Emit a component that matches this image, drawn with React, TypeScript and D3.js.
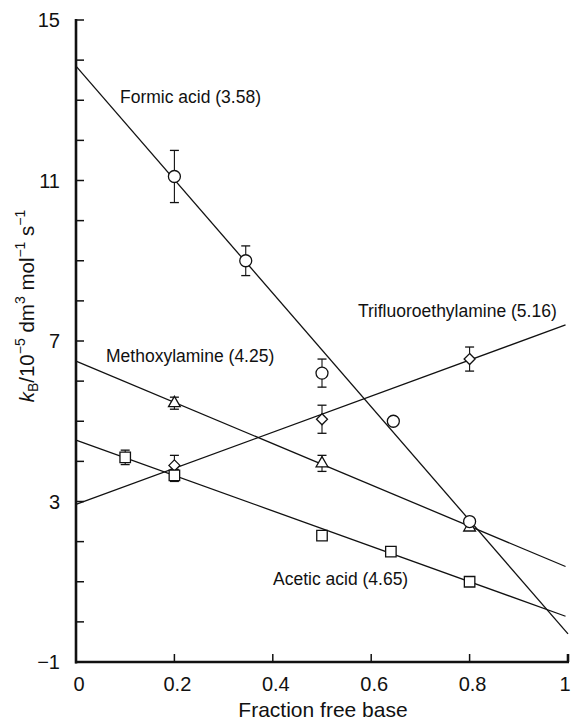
import React, { useEffect, useRef } from 'react';
import * as d3 from 'd3';

// Formic acid (circles)
const formicX = [0.2, 0.345, 0.5, 0.645, 0.8];
const formicY = [11.1, 9.0, 6.2, 5.0, 2.5];
const formicErr = [0.65, 0.37, 0.35, 0, 0];
// Trifluoroethylamine (diamonds)
const trifluoroX = [0.2, 0.5, 0.8];
const trifluoroY = [3.9, 5.05, 6.55];
const trifluoroErr = [0.25, 0.35, 0.3];
// Methoxylamine (triangles)
const methoxyX = [0.2, 0.5, 0.8];
const methoxyY = [5.45, 3.95, 2.35];
const methoxyErr = [0.15, 0.2, 0];
// Acetic acid (squares)
const aceticX = [0.1, 0.2, 0.5, 0.64, 0.8];
const aceticY = [4.1, 3.65, 2.15, 1.75, 1.0];
const aceticErr = [0.18, 0.15, 0, 0, 0];

// fitted lines: [x, y] end points
const formicLine = [[0, 13.85], [1, -0.3]];
const trifluoroLine = [[0, 2.93], [0.995, 7.4]];
const methoxyLine = [[0, 6.5], [0.995, 1.38]];
const aceticLine = [[0, 4.53], [0.995, 0.14]];

const xTicks = [0, 0.2, 0.4, 0.6, 0.8, 1];
const yLabelTicks = [15, 11, 7, 3, -1];
const yMinorTicks = d3.range(-1, 16, 1);

// custom rotated-square marker
const diamond = {
  draw(ctx: any, size: number) {
    const r = Math.sqrt(size / 2);
    ctx.moveTo(0, -r); ctx.lineTo(r, 0); ctx.lineTo(0, r); ctx.lineTo(-r, 0); ctx.closePath();
  },
};

export default function App() {
  const ref = useRef<SVGSVGElement>(null);

  useEffect(() => {
    const svg = d3.select(ref.current);
    svg.selectAll('*').remove();

    const x = d3.scaleLinear().domain([0, 1]).range([76, 568]);
    const y = d3.scaleLinear().domain([-1, 15]).range([662, 20]);
    const font = 'Liberation Sans, Arial, sans-serif';

    const g = svg.append('g');

    // fitted lines
    const line = d3.line<number[]>().x(d => x(d[0])).y(d => y(d[1]));
    [formicLine, trifluoroLine, methoxyLine, aceticLine].forEach(l => {
      g.append('path').attr('d', line(l)).attr('fill', 'none')
        .attr('stroke', '#111').attr('stroke-width', 1.3);
    });

    // error bars
    const errBars = (xs: number[], ys: number[], es: number[]) => {
      xs.forEach((xv, i) => {
        const e = es[i];
        if (!e) return;
        const cx = x(xv);
        g.append('line').attr('x1', cx).attr('x2', cx)
          .attr('y1', y(ys[i] + e)).attr('y2', y(ys[i] - e))
          .attr('stroke', '#111').attr('stroke-width', 1.1);
        [ys[i] + e, ys[i] - e].forEach(v => {
          g.append('line').attr('x1', cx - 4.5).attr('x2', cx + 4.5)
            .attr('y1', y(v)).attr('y2', y(v))
            .attr('stroke', '#111').attr('stroke-width', 1.3);
        });
      });
    };
    errBars(formicX, formicY, formicErr);
    errBars(trifluoroX, trifluoroY, trifluoroErr);
    errBars(methoxyX, methoxyY, methoxyErr);
    errBars(aceticX, aceticY, aceticErr);

    const markers = (xs: number[], ys: number[], type: d3.SymbolType, size: number) => {
      const sym = d3.symbol().type(type).size(size);
      xs.forEach((xv, i) => {
        g.append('path').attr('d', sym())
          .attr('transform', `translate(${x(xv)},${y(ys[i])})`)
          .attr('fill', '#fff').attr('stroke', '#111').attr('stroke-width', 1.3);
      });
    };
    markers(trifluoroX, trifluoroY, diamond, 60);
    markers(methoxyX, methoxyY, d3.symbolTriangle, 60);
    markers(formicX, formicY, d3.symbolCircle, 113);
    markers(aceticX, aceticY, d3.symbolSquare, 110);

    // axes
    const ax = svg.append('g').attr('stroke', '#111');
    ax.append('line').attr('x1', x(0)).attr('x2', x(0)).attr('y1', y(15) - 1).attr('y2', y(-1) + 1.5)
      .attr('stroke-width', 2.6);
    ax.append('line').attr('x1', x(0) - 1).attr('x2', x(1) + 1).attr('y1', y(-1)).attr('y2', y(-1))
      .attr('stroke-width', 2.6);
    yMinorTicks.forEach(v => {
      ax.append('line').attr('x1', x(0)).attr('x2', x(0) + 8).attr('y1', y(v)).attr('y2', y(v))
        .attr('stroke-width', 1.5);
    });
    xTicks.slice(1).forEach(v => {
      ax.append('line').attr('x1', x(v)).attr('x2', x(v)).attr('y1', y(-1)).attr('y2', y(-1) - 8)
        .attr('stroke-width', v === 1 ? 2.6 : 1.5);
    });

    const txt = svg.append('g').attr('font-family', font).attr('fill', '#111');
    yLabelTicks.forEach(v => {
      txt.append('text').attr('x', 60).attr('y', y(v)).attr('dy', '0.35em')
        .attr('text-anchor', 'end').attr('font-size', 20).text(v < 0 ? `\u2212${-v}` : `${v}`);
    });
    xTicks.forEach(v => {
      txt.append('text').attr('x', v === 1 ? x(v) - 3 : x(v) + 3).attr('y', 691)
        .attr('text-anchor', 'middle').attr('font-size', 20).text(d3.format('~g')(v));
    });
    txt.append('text').attr('x', 323).attr('y', 717).attr('text-anchor', 'middle')
      .attr('font-size', 21).text('Fraction free base');

    // y axis label
    const yl = txt.append('text').attr('transform', 'translate(34,306) rotate(-90)')
      .attr('text-anchor', 'middle').attr('font-size', 20.5);
    yl.append('tspan').attr('font-style', 'italic').text('k');
    yl.append('tspan').attr('font-size', 14).attr('dy', 4).text('B');
    yl.append('tspan').attr('dy', -4).text('/10');
    yl.append('tspan').attr('font-size', 14).attr('dy', -9).text('\u22125');
    yl.append('tspan').attr('dy', 9).text(' dm');
    yl.append('tspan').attr('font-size', 14).attr('dy', -9).text('3');
    yl.append('tspan').attr('dy', 9).text(' mol');
    yl.append('tspan').attr('font-size', 14).attr('dy', -9).text('\u22121');
    yl.append('tspan').attr('dy', 9).text(' s');
    yl.append('tspan').attr('font-size', 14).attr('dy', -9).text('\u22121');

    // series labels
    const labels: [string, number, number][] = [
      ['Formic acid (3.58)', 120, 103],
      ['Trifluoroethylamine (5.16)', 358, 317],
      ['Methoxylamine (4.25)', 106, 362],
      ['Acetic acid (4.65)', 273, 585],
    ];
    labels.forEach(([t, lx, ly]) => {
      txt.append('text').attr('x', lx).attr('y', ly).attr('font-size', 17.5).text(t);
    });
  }, []);

  return (
    <svg ref={ref} width={571} height={723}
      style={{ position: 'absolute', left: 0, top: 0, background: '#fff' }} />
  );
}
